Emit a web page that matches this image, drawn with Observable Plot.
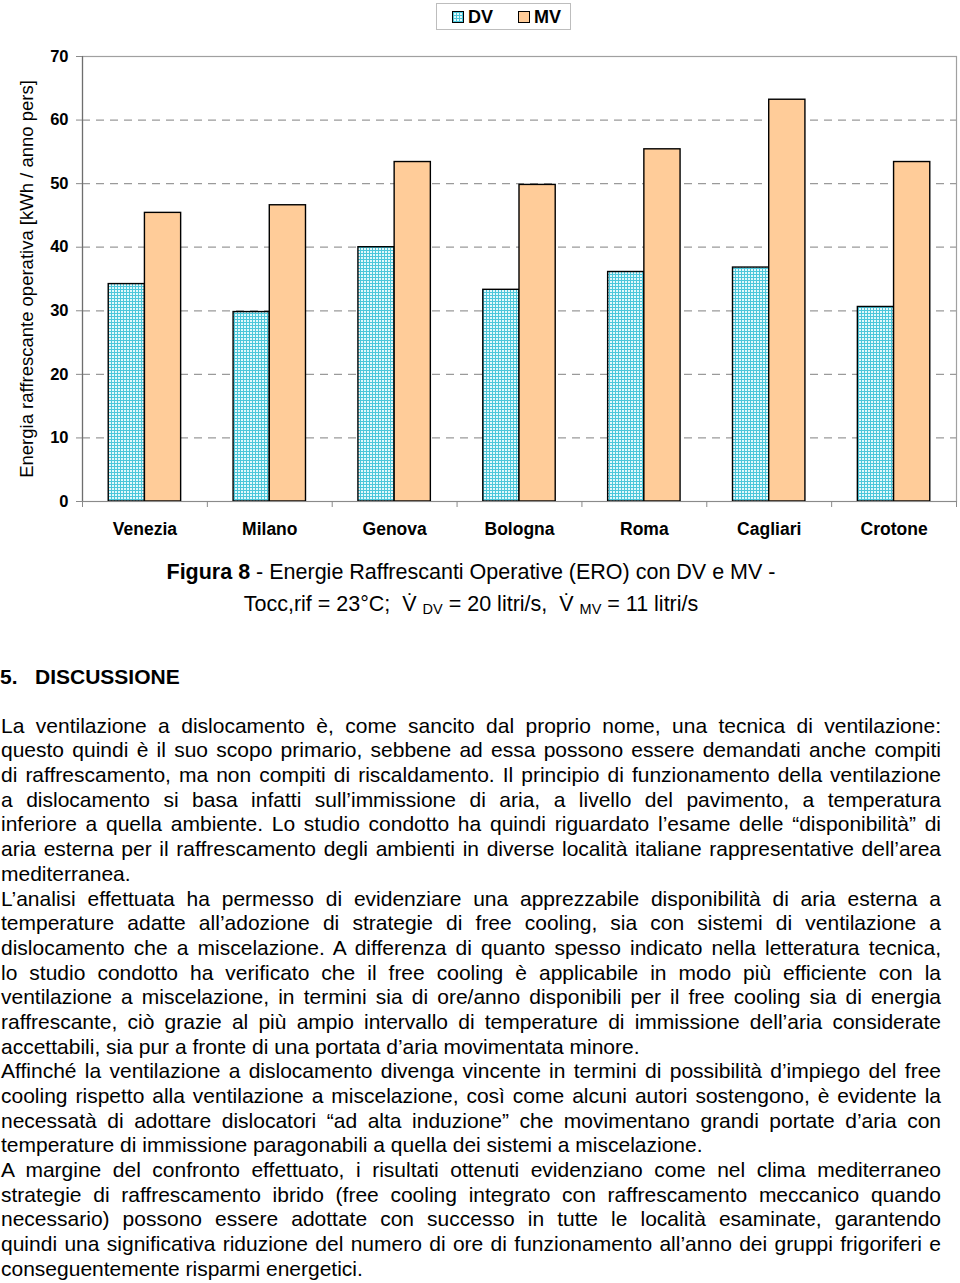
<!DOCTYPE html>
<html>
<head>
<meta charset="utf-8">
<script src="https://cdn.jsdelivr.net/npm/d3@7"></script>
<script src="https://cdn.jsdelivr.net/npm/@observablehq/plot@0.6"></script>
<style>
  body { margin: 0; width: 960px; background: #fff; font-family: "Liberation Sans", Arial, Helvetica, sans-serif; color: #000; }
  #legendRow { height: 34px; position: relative; }
  #legendBox { position: absolute; left: 436px; top: 3px; width: 135px; height: 27px; border: 1px solid #bdbdbd; box-sizing: border-box; font-weight: bold; font-size: 18px; }
  .lg { position: absolute; top: 3px; line-height: 20px; display: flex; align-items: center; }
  .sw { width: 10px; height: 10px; border: 1px solid #000; margin-right: 4px; display: inline-block; }
  #caption { width: 942px; text-align: center; font-size: 21.5px; line-height: 32px; margin-top: 12px; }
  #caption sub { font-size: 14.5px; vertical-align: -3px; }
  h2 { margin: 37px 0 0 0; font-size: 21px; line-height: 30px; font-weight: bold; }
  #body { margin-top: 21.7px; width: 940px; font-size: 21px; line-height: 24.68px; padding-left: 1px; }
  .j { text-align: justify; text-align-last: justify; }
  .l { text-align: left; }
</style>
</head>
<body>
<svg width="0" height="0" style="position:absolute">
  <defs>
    <pattern id="dvgrid" width="3" height="3" patternUnits="userSpaceOnUse">
      <rect width="3" height="3" fill="#e2f8fb"></rect>
      <path d="M0.5,0V3M0,0.5H3" stroke="#4cc6da" stroke-width="1"></path>
    </pattern>
  </defs>
</svg>
<div id="legendRow">
  <div id="legendBox">
    <div class="lg" style="left:15px"><span class="sw"><svg width="10" height="10" style="display:block"><rect width="10" height="10" fill="url(#dvgrid)"></rect></svg></span>DV</div>
    <div class="lg" style="left:81px"><span class="sw" style="background:#ffcc99"></span>MV</div>
  </div>
</div>
<div id="chart"></div>
<div id="caption">
  <div><b>Figura 8</b> - Energie Raffrescanti Operative (ERO) con DV e MV -</div>
  <div>Tocc,rif = 23°C;&nbsp; V&#775; <sub>DV</sub> = 20 litri/s,&nbsp; V&#775; <sub>MV</sub> = 11 litri/s</div>
</div>
<h2>5.&nbsp;&nbsp;&nbsp;DISCUSSIONE</h2>
<div id="body"></div>
<script>
const cities = ["Venezia", "Milano", "Genova", "Bologna", "Roma", "Cagliari", "Crotone"];
const dvValues = [34.2, 29.8, 40.0, 33.3, 36.1, 36.8, 30.6];
const mvValues = [45.4, 46.6, 53.4, 49.8, 55.4, 63.2, 53.4];
const yTicks = [0, 10, 20, 30, 40, 50, 60, 70];
const gridTicks = [10, 20, 30, 40, 50, 60];
const series = ["DV", "MV"];
const yLabel = "Energia raffrescante operativa [kWh / anno pers]";

const rows = cities.flatMap((c, i) => [
  {city: c, i, series: "DV", value: dvValues[i]},
  {city: c, i, series: "MV", value: mvValues[i]}
]);
const barW = 0.29;

const plot = Plot.plot({
  width: 960,
  height: 510,
  marginLeft: 82,
  marginRight: 4,
  marginTop: 22,
  marginBottom: 43,
  style: {fontFamily: '"Liberation Sans", Arial, Helvetica, sans-serif', background: "white", color: "#000"},
  x: {domain: [0, cities.length], axis: null},
  y: {domain: [0, 70], axis: null},
  marks: [
    Plot.ruleY(gridTicks, {stroke: "#9a9a9a", strokeWidth: 1.2, strokeDasharray: "8,6"}),
    Plot.frame({stroke: "#a0a0a0", strokeWidth: 1.2}),
    Plot.rectY(rows.filter(d => d.series === "DV"), {
      x1: d => d.i + 0.5 - barW, x2: d => d.i + 0.5, y1: 0, y2: "value",
      fill: "url(#dvgrid)", stroke: "#000", strokeWidth: 1.4
    }),
    Plot.rectY(rows.filter(d => d.series === "MV"), {
      x1: d => d.i + 0.5, x2: d => d.i + 0.5 + barW, y1: 0, y2: "value",
      fill: "#ffcc99", stroke: "#000", strokeWidth: 1.4
    }),
    Plot.ruleX([0], {stroke: "#6e6e6e", strokeWidth: 1.2}),
    Plot.ruleY([0], {stroke: "#8a8a8a", strokeWidth: 1.2}),
    Plot.axisY({ticks: yTicks, tickSize: 6, tickPadding: 8, fontSize: 16.5, fontWeight: "bold", stroke: "#8a8a8a", label: null}),
    Plot.axisX({ticks: d3.range(0, cities.length + 1), tickSize: 6, tickFormat: () => "", stroke: "#8a8a8a", label: null}),
    Plot.axisX({ticks: cities.map((c, i) => i + 0.5), tickSize: 0, tickPadding: 21, tickFormat: v => cities[Math.floor(v)], fontSize: 17.5, fontWeight: "bold", label: null}),
    Plot.text([yLabel], {frameAnchor: "left", text: d => d, rotate: -90, textAnchor: "middle", dx: -55, fontSize: 18.5, fill: "#000"})
  ]
});
document.getElementById("chart").appendChild(plot);

const bodyLines = [
  ["La ventilazione a dislocamento è, come sancito dal proprio nome, una tecnica di ventilazione:", "j"],
  ["questo quindi è il suo scopo primario, sebbene ad essa possono essere demandati anche compiti", "j"],
  ["di raffrescamento, ma non compiti di riscaldamento. Il principio di funzionamento della ventilazione", "j"],
  ["a dislocamento si basa infatti sull’immissione di aria, a livello del pavimento, a temperatura", "j"],
  ["inferiore a quella ambiente. Lo studio condotto ha quindi riguardato l’esame delle “disponibilità” di", "j"],
  ["aria esterna per il raffrescamento degli ambienti in diverse località italiane rappresentative dell’area", "j"],
  ["mediterranea.", "l"],
  ["L’analisi effettuata ha permesso di evidenziare una apprezzabile disponibilità di aria esterna a", "j"],
  ["temperature adatte all’adozione di strategie di free cooling, sia con sistemi di ventilazione a", "j"],
  ["dislocamento che a miscelazione. A differenza di quanto spesso indicato nella letteratura tecnica,", "j"],
  ["lo studio condotto ha verificato che il free cooling è applicabile in modo più efficiente con la", "j"],
  ["ventilazione a miscelazione, in termini sia di ore/anno disponibili per il free cooling sia di energia", "j"],
  ["raffrescante, ciò grazie al più ampio intervallo di temperature di immissione dell’aria considerate", "j"],
  ["accettabili, sia pur a fronte di una portata d’aria movimentata minore.", "l"],
  ["Affinché la ventilazione a dislocamento divenga vincente in termini di possibilità d’impiego del free", "j"],
  ["cooling rispetto alla ventilazione a miscelazione, così come alcuni autori sostengono, è evidente la", "j"],
  ["necessatà di adottare dislocatori “ad alta induzione” che movimentano grandi portate d’aria con", "j"],
  ["temperature di immissione paragonabili a quella dei sistemi a miscelazione.", "l"],
  ["A margine del confronto effettuato, i risultati ottenuti evidenziano come nel clima mediterraneo", "j"],
  ["strategie di raffrescamento ibrido (free cooling integrato con raffrescamento meccanico quando", "j"],
  ["necessario) possono essere adottate con successo in tutte le località esaminate, garantendo", "j"],
  ["quindi una significativa riduzione del numero di ore di funzionamento all’anno dei gruppi frigoriferi e", "j"],
  ["conseguentemente risparmi energetici.", "l"]
];
const bodyEl = document.getElementById("body");
for (const [t, cls] of bodyLines) {
  const d = document.createElement("div");
  d.className = cls;
  d.textContent = t;
  bodyEl.appendChild(d);
}
</script>
</body>
</html>
